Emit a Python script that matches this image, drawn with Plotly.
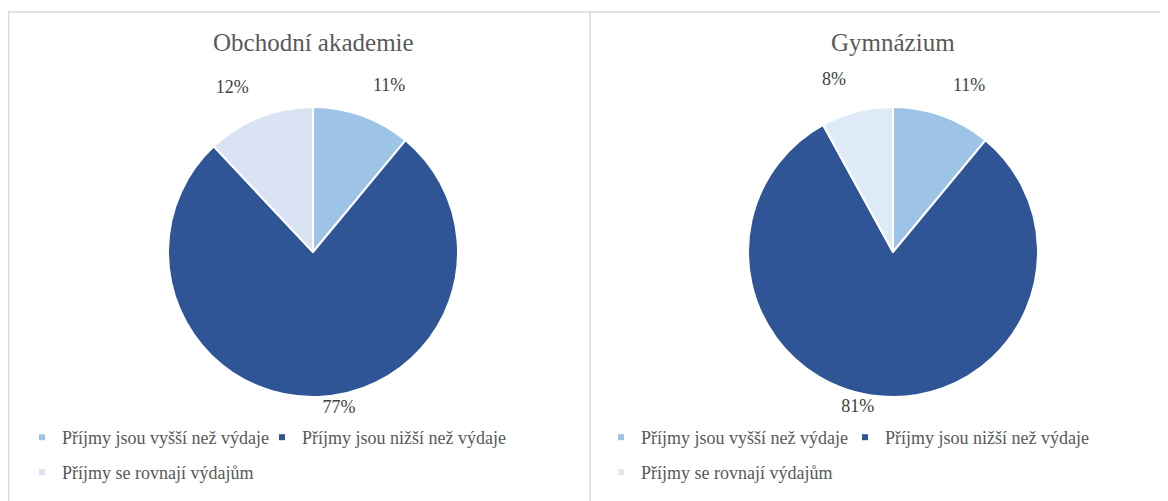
import plotly.graph_objects as go

# categories and shares (%)
labels = ['Příjmy jsou vyšší než výdaje', 'Příjmy jsou nižší než výdaje', 'Příjmy se rovnají výdajům']
oa_values = [11, 77, 12]
gym_values = [11, 81, 8]
titles = ['Obchodní akademie', 'Gymnázium']

oa_colors = ['#9DC3E6', '#2F5597', '#DAE3F3']
gym_colors = ['#9DC3E6', '#2F5597', '#DEEBF7']

# the page body has an 8px margin, so the figure starts at (8, 8) in the window
OFF = 8
W, H = 1168 - OFF, 501 - OFF
serif = 'Liberation Serif, Times New Roman, serif'


def px(x):
    return (x - OFF) / W


def py(y):
    return 1 - (y - OFF) / H


# top slices get a blank line under the number so the label sits higher, like Excel
label_tpl = ['%{percent}<br> ', '%{percent}', '%{percent}<br> ']

fig = go.Figure()

# pie centre x, and marker position of each legend entry (row 1: two items, row 2: one)
panels = [
    (oa_values, oa_colors, 313, [(47, 437.5), (287, 437.5), (47, 472.5)]),
    (gym_values, gym_colors, 893, [(626, 437.5), (870, 437.5), (626, 472.5)]),
]

legends = {}
n = 0
for values, colors, cx, spots in panels:
    fig.add_trace(go.Pie(
        labels=labels, values=values, sort=False, direction='clockwise', rotation=0,
        marker=dict(colors=colors, line=dict(color='white', width=2)),
        texttemplate=label_tpl, textposition='outside',
        textfont=dict(family=serif, size=18, color='#404040'),
        domain=dict(x=[px(cx - 145), px(cx + 145)], y=[py(397), py(107)]),
        showlegend=False, hoverinfo='label+percent',
    ))
    for lab, col, (mx, my) in zip(labels, colors, spots):
        n += 1
        name = 'legend' if n == 1 else 'legend%d' % n
        fig.add_trace(go.Scatter(
            x=[None], y=[None], mode='markers', name=lab,
            marker=dict(symbol='square', size=6, color=col),
            legend=name, showlegend=True,
        ))
        legends[name] = dict(
            x=px(mx - 25), y=py(my), orientation='h', yanchor='middle', xanchor='left',
            font=dict(family=serif, size=18, color='#595959'),
            bgcolor='rgba(0,0,0,0)', itemclick=False, itemdoubleclick=False, itemwidth=30,
        )

fig.update_layout(
    width=W, height=H,
    margin=dict(l=0, r=0, t=0, b=0),
    paper_bgcolor='white', plot_bgcolor='white',
    showlegend=True,
    xaxis=dict(visible=False), yaxis=dict(visible=False),
    annotations=[
        dict(text=titles[0], x=px(313), y=py(42), xref='paper', yref='paper',
             xanchor='center', yanchor='middle', showarrow=False,
             font=dict(family=serif, size=25, color='#595959')),
        dict(text=titles[1], x=px(893), y=py(42), xref='paper', yref='paper',
             xanchor='center', yanchor='middle', showarrow=False,
             font=dict(family=serif, size=25, color='#595959')),
    ],
    shapes=[
        dict(type='line', xref='paper', yref='paper', x0=0, x1=1, y0=py(12), y1=py(12),
             line=dict(color='#D9D9D9', width=1.5)),
        dict(type='line', xref='paper', yref='paper', x0=px(8.5), x1=px(8.5), y0=py(12), y1=0,
             line=dict(color='#D9D9D9', width=1.5)),
        dict(type='line', xref='paper', yref='paper', x0=px(590), x1=px(590), y0=py(12), y1=0,
             line=dict(color='#D9D9D9', width=1.5)),
    ],
    **legends,
)

fig.write_html('out.html')
